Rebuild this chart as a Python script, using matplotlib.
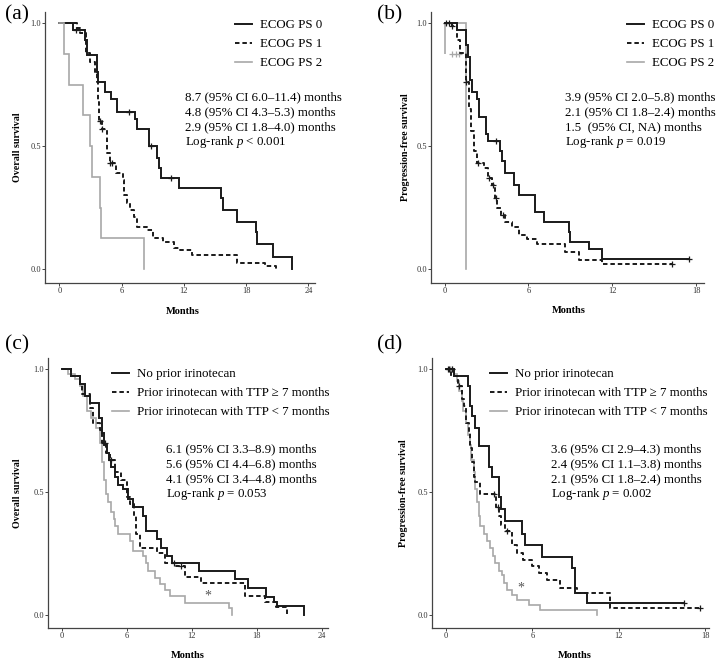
import numpy as np
import matplotlib.pyplot as plt
from matplotlib.lines import Line2D

plt.rcParams['font.family'] = ['Liberation Serif', 'DejaVu Serif']
plt.rcParams['mathtext.fontset'] = 'custom'
plt.rcParams['mathtext.rm'] = 'Liberation Serif'
plt.rcParams['mathtext.it'] = 'Liberation Serif:italic'

# ---- (a) overall survival by ECOG PS
a0_t = [1.3, 2.5, 2.65, 3.6, 3.75, 4.4, 5.0, 5.6, 7.3, 7.45, 8.6, 9.4, 9.6, 9.75, 11.5,
        15.55, 15.75, 17.1, 18.9, 19.05, 20.6, 22.4]
a0_s = [0.97, 0.93, 0.87, 0.80, 0.76, 0.72, 0.69, 0.64, 0.61, 0.57, 0.50, 0.45, 0.41, 0.37, 0.33,
        0.29, 0.24, 0.19, 0.15, 0.10, 0.05, 0.0]
a0_c = [1.6, 6.7, 8.8, 10.8]
a1_t = [1.7, 2.0, 2.6, 3.0, 3.45, 3.6, 3.7, 3.85, 4.1, 4.55, 4.9, 5.5, 6.1, 6.25, 6.5, 6.8,
        7.15, 7.5, 8.4, 9.0, 10.0, 11.0, 11.6, 12.8, 17.1, 19.8, 20.9]
a1_s = [0.98, 0.96, 0.88, 0.84, 0.80, 0.76, 0.68, 0.60, 0.57, 0.47, 0.43, 0.39, 0.36, 0.30, 0.27, 0.24,
        0.21, 0.17, 0.16, 0.126, 0.11, 0.085, 0.078, 0.058, 0.024, 0.011, 0.0]
a1_c = [3.9, 4.1, 4.9, 5.1]
a2_t = [0.45, 0.9, 2.3, 2.95, 3.1, 3.9, 4.0, 8.2]
a2_s = [0.875, 0.75, 0.625, 0.5, 0.375, 0.25, 0.125, 0.0]

# ---- (b) progression-free survival by ECOG PS
b0_t = [0.9, 1.55, 1.67, 1.84, 1.96, 2.3, 2.43, 2.96, 3.1, 3.99, 4.1, 4.34, 4.94, 5.3, 6.5,
        7.1, 8.93, 9.0, 10.3, 11.3]
b0_s = [0.97, 0.91, 0.86, 0.77, 0.72, 0.69, 0.62, 0.55, 0.52, 0.48, 0.44, 0.39, 0.34, 0.30, 0.23,
        0.19, 0.15, 0.11, 0.08, 0.04]
b0_end = 17.5
b0_c = [0.1, 3.65, 17.5]
b1_t = [0.5, 0.85, 1.1, 1.5, 1.72, 1.9, 2.08, 2.3, 2.8, 3.1, 3.4, 3.63, 3.75, 4.0, 4.3, 4.8,
        5.3, 5.9, 6.6, 8.6, 9.6, 11.3]
b1_s = [0.99, 0.93, 0.88, 0.76, 0.65, 0.56, 0.48, 0.43, 0.41, 0.37, 0.34, 0.29, 0.25, 0.22, 0.19, 0.17,
        0.14, 0.12, 0.10, 0.07, 0.035, 0.02]
b1_end = 16.3
b1_c = [0.3, 0.55, 1.55, 2.35, 3.15, 3.45, 3.7, 4.2, 16.3]
b2_t = [1.55]
b2_s = [0.0]
b2_early = 0.875
b2_c = [0.5, 0.8, 1.05]

# ---- (c) overall survival by prior irinotecan
c0_t = [0.83, 1.7, 2.15, 2.6, 3.48, 3.7, 3.9, 4.15, 4.4, 4.6, 4.9, 5.2, 5.7, 6.15, 6.6, 7.5,
        7.8, 8.8, 9.2, 9.7, 10.2, 12.7, 16.0, 17.2, 18.9, 19.6, 19.9, 22.4]
c0_s = [0.97, 0.94, 0.89, 0.86, 0.80, 0.74, 0.69, 0.66, 0.63, 0.60, 0.56, 0.53, 0.51, 0.47, 0.44, 0.40,
        0.34, 0.31, 0.27, 0.24, 0.21, 0.18, 0.145, 0.107, 0.071, 0.053, 0.035, 0.0]
c1_t = [0.9, 1.7, 1.85, 2.6, 2.9, 3.5, 3.7, 4.1, 4.45, 4.9, 5.45, 6.0, 6.3, 6.7, 6.9, 7.2,
        8.8, 9.55, 10.5, 11.4, 12.9, 16.9, 18.8, 19.8, 20.8]
c1_s = [0.97, 0.94, 0.90, 0.84, 0.78, 0.75, 0.70, 0.66, 0.63, 0.58, 0.55, 0.48, 0.45, 0.40, 0.33, 0.27,
        0.25, 0.21, 0.20, 0.155, 0.13, 0.075, 0.05, 0.03, 0.0]
c1_c = [4.0, 4.6, 10.4, 11.0]
c2_t = [0.6, 1.2, 1.7, 2.0, 2.3, 2.75, 3.2, 3.5, 3.7, 3.9, 4.1, 4.3, 4.6, 4.8, 4.95, 5.2,
        6.3, 6.6, 7.5, 7.8, 8.0, 8.6, 9.1, 9.55, 10.0, 11.4, 15.5, 15.75]
c2_s = [0.98, 0.96, 0.93, 0.89, 0.83, 0.80, 0.76, 0.70, 0.62, 0.55, 0.49, 0.46, 0.42, 0.39, 0.36, 0.33,
        0.30, 0.26, 0.24, 0.21, 0.18, 0.15, 0.126, 0.10, 0.075, 0.047, 0.027, 0.0]

# ---- (d) progression-free survival by prior irinotecan
d0_t = [0.53, 1.53, 1.69, 1.8, 2.04, 2.27, 2.32, 2.96, 3.2, 3.68, 3.8, 4.1, 5.3, 5.45, 6.65,
        8.73, 8.96, 9.77]
d0_s = [0.97, 0.93, 0.85, 0.81, 0.76, 0.72, 0.685, 0.60, 0.56, 0.48, 0.43, 0.38, 0.33, 0.285, 0.236,
        0.189, 0.087, 0.046]
d0_end = 16.5
d0_c = [0.15, 0.42, 16.5]
d1_t = [0.37, 0.83, 1.1, 1.23, 1.39, 1.57, 1.69, 1.8, 1.92, 2.04, 2.38, 3.5, 3.7, 3.84, 4.12,
        4.58, 4.93, 5.35, 5.97, 6.44, 7.0, 7.94, 9.1, 11.4]
d1_s = [0.97, 0.93, 0.88, 0.85, 0.78, 0.74, 0.68, 0.62, 0.56, 0.54, 0.49, 0.44, 0.40, 0.366, 0.34,
        0.285, 0.25, 0.224, 0.20, 0.17, 0.142, 0.11, 0.088, 0.029]
d1_end = 17.6
d1_c = [0.23, 0.88, 3.3, 3.6, 4.2, 17.6]
d2_t = [0.53, 0.76, 0.93, 1.1, 1.2, 1.39, 1.53, 1.64, 1.76, 1.92, 2.04, 2.15, 2.27, 2.38, 2.62,
        2.85, 3.08, 3.26, 3.43, 3.66, 3.9, 4.0, 4.24, 4.6, 4.93, 5.74, 6.55, 10.45]
d2_s = [0.98, 0.95, 0.91, 0.87, 0.83, 0.78, 0.73, 0.69, 0.63, 0.58, 0.51, 0.46, 0.40, 0.36, 0.33,
        0.30, 0.27, 0.24, 0.21, 0.18, 0.16, 0.13, 0.10, 0.08, 0.06, 0.04, 0.018, 0.0]
d2_c = [0.3, 0.45]

ps_labels = ['ECOG PS 0', 'ECOG PS 1', 'ECOG PS 2']
iri_labels = ['No prior irinotecan', 'Prior irinotecan with TTP \u2265 7 months',
              'Prior irinotecan with TTP < 7 months']
a_stats = ['8.7 (95% CI 6.0\u201311.4) months', '4.8 (95% CI 4.3\u20135.3) months',
           '2.9 (95% CI 1.8\u20134.0) months', 'Log-rank $p$ < 0.001']
b_stats = ['3.9 (95% CI 2.0\u20135.8) months', '2.1 (95% CI 1.8\u20132.4) months',
           '1.5  (95% CI, NA) months', 'Log-rank $p$ = 0.019']
c_stats = ['6.1 (95% CI 3.3\u20138.9) months', '5.6 (95% CI 4.4\u20136.8) months',
           '4.1 (95% CI 3.4\u20134.8) months', 'Log-rank $p$ = 0.053']
d_stats = ['3.6 (95% CI 2.9\u20134.3) months', '2.4 (95% CI 1.1\u20133.8) months',
           '2.1 (95% CI 1.8\u20132.4) months', 'Log-rank $p$ = 0.002']

W, H = 724, 666
BLACK = '#1a1a1a'
GRAY = '#a8a8a8'
DASH = (0, (2.3, 1.5))
styles = [dict(color=BLACK, lw=1.4, ls='-'),
          dict(color=BLACK, lw=1.4, ls=DASH),
          dict(color=GRAY, lw=1.2, ls='-')]


def fx(x):
    return x / W


def fy(y):
    return 1 - y / H


def km(ax, t, s, st, end=None, cens=()):
    xs = [0.0] + list(t)
    ys = [1.0] + list(s)
    if end is not None and end > xs[-1]:
        xs.append(end)
        ys.append(ys[-1])
    ax.plot(xs, ys, drawstyle='steps-post', solid_joinstyle='miter', **st)
    if len(cens):
        idx = np.searchsorted(t, cens, side='right')
        cy = np.array([1.0] + list(s))[idx]
        ax.plot(cens, cy, ls='none', marker='+', ms=4.5, mew=0.9, color=st['color'])


fig = plt.figure(figsize=(W / 100, H / 100), dpi=100)

axa = fig.add_axes([fx(45), fy(283), fx(315) - fx(45), fy(12) - fy(283)])
axb = fig.add_axes([fx(431), fy(283), fx(704) - fx(431), fy(12) - fy(283)])
axc = fig.add_axes([fx(48), fy(628), fx(328) - fx(48), fy(358) - fy(628)])
axd = fig.add_axes([fx(432), fy(628), fx(708.7) - fx(432), fy(358) - fy(628)])

km(axa, a0_t, a0_s, styles[0], cens=a0_c)
km(axa, a1_t, a1_s, styles[1], cens=a1_c)
km(axa, a2_t, a2_s, styles[2])

km(axb, b2_t, b2_s, styles[2])
axb.vlines(0, b2_early, 1.0, color=GRAY, lw=1.2)
axb.plot(b2_c, [b2_early] * len(b2_c), ls='none', marker='+', ms=4.5, mew=0.9, color=GRAY)
km(axb, b0_t, b0_s, styles[0], end=b0_end, cens=b0_c)
km(axb, b1_t, b1_s, styles[1], end=b1_end, cens=b1_c)

km(axc, c2_t, c2_s, styles[2])
km(axc, c1_t, c1_s, styles[1], cens=c1_c)
km(axc, c0_t, c0_s, styles[0])
axc.text(13.5, 0.075, '*', ha='center', va='center', fontsize=10, color='#555555')

km(axd, d2_t, d2_s, styles[2], cens=d2_c)
km(axd, d1_t, d1_s, styles[1], end=d1_end, cens=d1_c)
km(axd, d0_t, d0_s, styles[0], end=d0_end, cens=d0_c)
axd.text(5.2, 0.11, '*', ha='center', va='center', fontsize=10, color='#555555')

axa.set_xlim(-1.38, 24.63)
axb.set_xlim(-0.98, 18.57)
axc.set_xlim(-1.26, 24.6)
axd.set_xlim(-0.97, 18.23)
for ax in (axa, axb):
    ax.set_ylim(-0.057, 1.045)
for ax in (axc, axd):
    ax.set_ylim(-0.054, 1.045)

for ax, xt in ((axa, [0, 6, 12, 18, 24]), (axb, [0, 6, 12, 18]),
               (axc, [0, 6, 12, 18, 24]), (axd, [0, 6, 12, 18])):
    ax.set_xticks(xt)
    ax.set_yticks([0.0, 0.5, 1.0])
    ax.set_yticklabels(['0.0', '0.5', '1.0'])
    ax.spines['top'].set_visible(False)
    ax.spines['right'].set_visible(False)
    for sp in ('left', 'bottom'):
        ax.spines[sp].set_color('#444444')
        ax.spines[sp].set_linewidth(0.9)
    ax.tick_params(length=2, width=0.7, color='#444444', labelsize=6, labelcolor='#333333', pad=1)
    ax.patch.set_alpha(0)


def legend(ax, labels, x, ytop):
    handles = [Line2D([], [], **st) for st in styles]
    ax.legend(handles, labels, loc='upper left', bbox_to_anchor=(fx(x), fy(ytop)),
              bbox_transform=fig.transFigure, frameon=False, borderpad=0, borderaxespad=0,
              handlelength=1.35, handletextpad=0.6, labelspacing=0.55, fontsize=9.3)


legend(axa, ps_labels, 235, 19)
legend(axb, ps_labels, 627, 19)
legend(axc, iri_labels, 112, 368)
legend(axd, iri_labels, 490, 368)


def stats(lines, x, y0):
    for i, s in enumerate(lines):
        fig.text(fx(x), fy(y0 + 15 * i), s, ha='left', va='center', fontsize=9.3)


stats(a_stats, 185, 97)
stats(b_stats, 565, 97)
stats(c_stats, 166, 449)
stats(d_stats, 551, 449)

for lab, x, y in (('(a)', 5, 15), ('(b)', 377, 15), ('(c)', 5, 345), ('(d)', 377, 345)):
    fig.text(fx(x), fy(y), lab, ha='left', va='center', fontsize=15.5)

for lab, x, y in (('Overall survival', 17, 147), ('Progression-free survival', 405, 147),
                  ('Overall survival', 18, 493), ('Progression-free survival', 404, 493)):
    fig.text(fx(x), fy(y), lab, rotation=90, ha='center', va='center', fontsize=7.2,
             fontweight='bold')

for x, y in ((183, 311), (569, 310), (188, 656), (575, 656)):
    fig.text(fx(x), fy(y), 'Months', ha='center', va='center', fontsize=7.5, fontweight='bold')

fig.savefig('out.png', dpi=100)
